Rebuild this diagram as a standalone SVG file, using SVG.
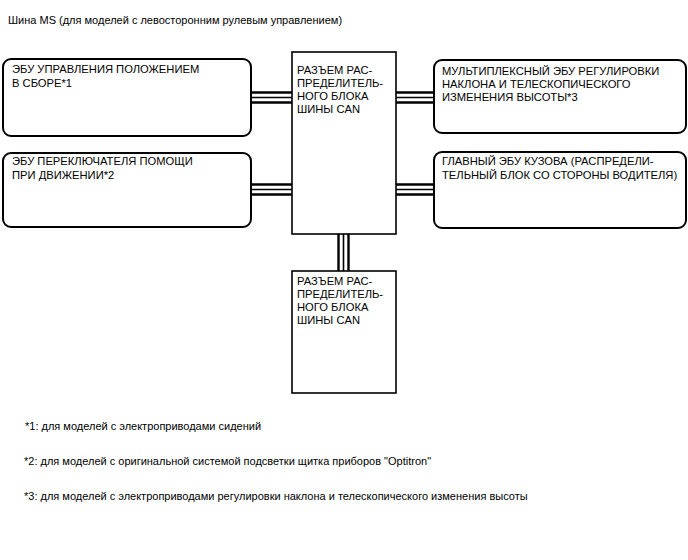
<svg xmlns="http://www.w3.org/2000/svg" width="688" height="560" viewBox="0 0 688 560">
<style>
text{font-family:"Liberation Sans",Arial,sans-serif;font-size:11.2px;fill:#000}
.ti{font-size:11px}
.fn{font-size:11px}
.rb{fill:#fff;stroke:#000;stroke-width:2}
.sb{fill:#fff;stroke:#000;stroke-width:1.6}
.w{stroke:#000;fill:none}
.t{stroke-width:2.4}
.m{stroke-width:1.6}
</style>
<rect width="688" height="560" fill="#fff"/>
<text class="ti" x="8" y="24">Шина MS (для моделей с левосторонним рулевым управлением)</text>
<g id="connectors">
<path class="w t" d="M251 92.5H292M251 102.5H292M251 184.5H292M251 194.5H292M396 92.5H434M396 102.5H434M396 184.5H434M396 194.5H434M338.5 234V271M348.5 234V271"/>
<path class="w m" d="M251 97.5H292M251 189.5H292M396 97.5H434M396 189.5H434M343.5 234V271"/>
</g>
<g id="ecu-position">
<rect class="rb" x="3" y="59" width="248" height="77" rx="8"/>
<text x="12" y="73">ЭБУ УПРАВЛЕНИЯ ПОЛОЖЕНИЕМ</text>
<text x="12" y="87">В СБОРЕ*1</text>
</g>
<g id="ecu-assist">
<rect class="rb" x="3" y="153" width="248" height="74" rx="8"/>
<text x="12" y="165">ЭБУ ПЕРЕКЛЮЧАТЕЛЯ ПОМОЩИ</text>
<text x="12" y="179">ПРИ ДВИЖЕНИИ*2</text>
</g>
<g id="can-junction-1">
<rect class="sb" x="292" y="52" width="104" height="182"/>
<text x="297" y="74">РАЗЪЕМ РАС-</text>
<text x="297" y="87">ПРЕДЕЛИТЕЛЬ-</text>
<text x="297" y="100">НОГО БЛОКА</text>
<text x="297" y="113">ШИНЫ CAN</text>
</g>
<g id="ecu-tilt">
<rect class="rb" x="434" y="60" width="252" height="73" rx="8"/>
<text x="442" y="75">МУЛЬТИПЛЕКСНЫЙ ЭБУ РЕГУЛИРОВКИ</text>
<text x="442" y="88">НАКЛОНА И ТЕЛЕСКОПИЧЕСКОГО</text>
<text x="442" y="101">ИЗМЕНЕНИЯ ВЫСОТЫ*3</text>
</g>
<g id="main-body-ecu">
<rect class="rb" x="434" y="152" width="252" height="76" rx="8"/>
<text x="442" y="165">ГЛАВНЫЙ ЭБУ КУЗОВА (РАСПРЕДЕЛИ-</text>
<text x="442" y="179">ТЕЛЬНЫЙ БЛОК СО СТОРОНЫ ВОДИТЕЛЯ)</text>
</g>
<g id="can-junction-2">
<rect class="sb" x="292" y="271" width="104" height="122"/>
<text x="297" y="285">РАЗЪЕМ РАС-</text>
<text x="297" y="298">ПРЕДЕЛИТЕЛЬ-</text>
<text x="297" y="311">НОГО БЛОКА</text>
<text x="297" y="324">ШИНЫ CAN</text>
</g>
<text class="fn" x="25" y="430">*1: для моделей с электроприводами сидений</text>
<text class="fn" x="24" y="465">*2: для моделей с оригинальной системой подсветки щитка приборов "Optitron"</text>
<text class="fn" x="24" y="500">*3: для моделей с электроприводами регулировки наклона и телескопического изменения высоты</text>
</svg>
